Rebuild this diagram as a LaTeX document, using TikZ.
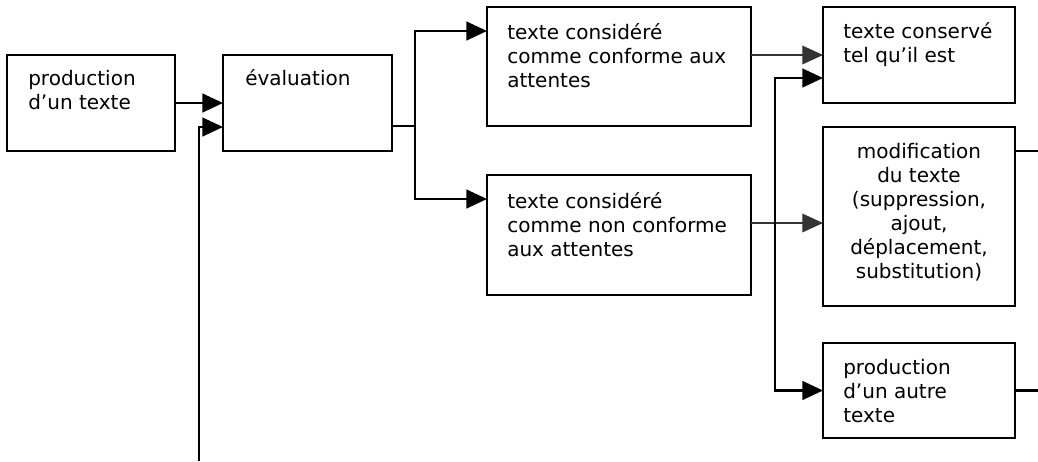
\documentclass[tikz,border=0pt]{standalone}
\usepackage{fontspec}
\setmainfont{DejaVu Sans}
\usetikzlibrary{arrows.meta,calc,fit}
\begin{document}
\begin{tikzpicture}[x=0.75pt,y=-0.75pt,
  box/.style={draw,line width=1.9pt,inner sep=0pt,outer sep=0pt},
  % multi-line texts are anchored on the baseline of their last line
  txt/.style={anchor=base west,inner sep=0pt,align=left,
    font=\fontsize{15pt}{18pt}\selectfont},
  txtc/.style={anchor=base,inner sep=0pt,align=center,
    font=\fontsize{15pt}{18pt}\selectfont},
  link/.style={line width=1.9pt},
  thinlink/.style={line width=0.9pt,black!80},
  tip/.style={-{Triangle[length=15.5pt,width=14pt]}},
  tips/.style={{Triangle[length=15.5pt,width=14pt]}-{Triangle[length=15.5pt,width=14pt]}}
]
% canvas
\fill[white] (0,0) rectangle (1038,461);
\useasboundingbox (0,0) rectangle (1038,461);

% boxes
\node[box,fit={(7,55) (175,151)}]   (b1) {};
\node[box,fit={(223,55) (392,151)}] (b2) {};
\node[box,fit={(487,7) (751,126)}]  (b3) {};
\node[box,fit={(487,175) (751,295)}] (b4) {};
\node[box,fit={(823,7) (1015,103)}]  (b5) {};
\node[box,fit={(823,127) (1015,306)}] (b6) {};
\node[box,fit={(823,343) (1015,438)}] (b7) {};

% box texts
\node[txt] (t1) at (28,109)  {production\\d’un texte};
\node[txt] (t2) at (245,85) {évaluation};
\node[txt] (t3) at (507,87) {texte considéré\\comme conforme aux\\attentes};
\node[txt] (t4) at (507,256) {texte considéré\\comme non conforme\\aux attentes};
\node[txt] (t5) at (843,62) {texte conservé\\tel qu’il est};
\node[txtc] (t6) at (919,278) {modification\\du texte\\(suppression,\\ajout,\\déplacement,\\substitution)};
\node[txt] (t7) at (843,422) {production\\d’un autre\\texte};

% helper coordinates
\coordinate (fb) at (199,461);
\coordinate (j1) at (415,126);
\coordinate (v)  at (775,200);
\coordinate (edge) at (1038,0);

% production -> evaluation
\draw[link,tip] (b1.east) -- (b2.west);
% feedback into evaluation
\draw[link,tip] (fb) |- ($(b2.south west)+(0,-24)$);

% evaluation -> the two judgements
\draw[link] (b2.east |- j1) -- (j1);
\draw[link,tips] ($(b3.north west)+(0,24)$) -| (j1) |- ($(b4.north west)+(0,24)$);

% judgements -> outcomes
\draw[thinlink,tip] ($(b3.north east)+(0,48)$) -- ($(b5.north west)+(0,48)$);
\draw[thinlink,tip] ($(b4.north east)+(0,48)$) -- ($(b6.north west)+(0,96)$);

% branch from the kept text down to a new text
\path ($(b5.north west)+(0,71)$) coordinate (a5);
\draw[link,tips] (a5) -- (a5 -| v) |- (b7.west);

% outgoing lines to the right
\path ($(b6.north east)+(0,24)$) coordinate (o6);
\draw[link] (o6) -- (o6 -| edge);
\draw[link] (b7.east) -- (b7.east -| edge);
\end{tikzpicture}
\end{document}
